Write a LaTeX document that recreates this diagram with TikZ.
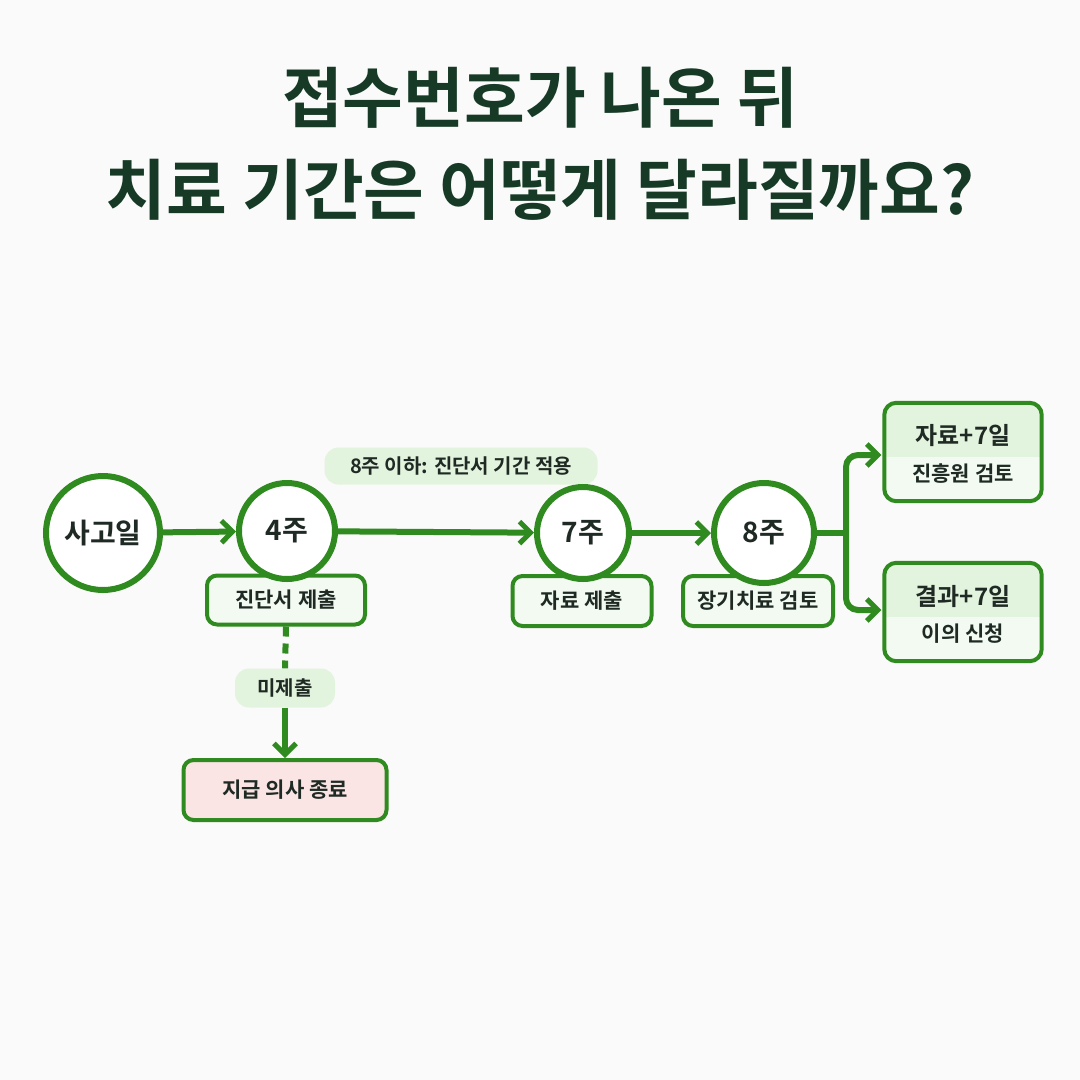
\documentclass[tikz,border=0pt]{standalone}
\usepackage{fontspec}
\setmainfont{Noto Sans CJK KR}[BoldFont={* Bold}]
\usetikzlibrary{arrows.meta}
\definecolor{gr}{HTML}{2F8A1F}
\definecolor{lg}{HTML}{E3F4DE}
\definecolor{vlg}{HTML}{F3FAF1}
\definecolor{tx}{HTML}{1F2A24}
\definecolor{ttl}{HTML}{173A26}
\definecolor{pk}{HTML}{FBE4E4}
\begin{document}
\begin{tikzpicture}[x=1pt,y=-1pt,
  circ/.style={circle,draw=gr,line width=6pt,fill=white,font=\bfseries\fontsize{28}{28}\selectfont,text=tx,inner sep=0pt},
  box/.style={rounded corners=10pt,draw=gr,line width=4pt,fill=vlg,font=\bfseries\fontsize{21}{21}\selectfont,text=tx,inner sep=0pt},
  pill/.style={rounded corners=14pt,fill=lg,font=\bfseries\fontsize{20}{20}\selectfont,text=tx,inner sep=0pt},
  arr/.style={draw=gr,line width=6pt,-{Straight Barb[length=11pt,width=22pt,line width=5pt]}},
  ln/.style={draw=gr,line width=6pt}]
\fill[white!96!gray] (0,0) rectangle (1080,1080);
\useasboundingbox (0,0) rectangle (1080,1080);
\node[font=\bfseries\fontsize{66}{66}\selectfont,text=ttl] (t1) at (540,98) {접수번호가 나온 뒤};
\node[font=\bfseries\fontsize{66}{66}\selectfont,text=ttl] (t2) at (540,190) {치료 기간은 어떻게 달라질까요?};
\node[pill,minimum width=273pt,minimum height=37pt] (p1) at (461,466) {8주 이하: 진단서 기간 적용};
\node[box,minimum width=158pt,minimum height=49pt] (b4) at (286,600) {진단서 제출};
\node[box,minimum width=139pt,minimum height=50pt] (b7) at (582,601) {자료 제출};
\node[box,minimum width=150pt,minimum height=50pt] (b8) at (758,601) {장기치료 검토};
\node[circ,minimum size=114pt] (c0) at (103,533) {사고일};
\node[circ,minimum size=96pt] (c4) at (287,531) {4주};
\node[circ,minimum size=92pt] (c7) at (583,533) {7주};
\node[circ,minimum size=100pt] (c8) at (764,533) {8주};
\node[minimum width=157pt,minimum height=98pt,inner sep=0pt] (r1) at (963,452) {};
\node[minimum width=157pt,minimum height=98pt,inner sep=0pt] (r2) at (963,612) {};
\foreach \r in {r1,r2}{
 \begin{scope}
 \clip[rounded corners=12pt] (\r.south west) rectangle (\r.north east);
 \fill[vlg] (\r.south west) rectangle (\r.north east);
 \fill[lg] (\r.north west) rectangle ([yshift=-5pt]\r.east);
 \end{scope}
 \draw[gr,line width=4pt,rounded corners=12pt] (\r.south west) rectangle (\r.north east);
}
\node[font=\bfseries\fontsize{24}{24}\selectfont,text=tx] (r1a) at (963,436) {자료+7일};
\node[font=\bfseries\fontsize{21}{21}\selectfont,text=tx] (r1b) at (963,474) {진흥원 검토};
\node[font=\bfseries\fontsize{24}{24}\selectfont,text=tx] (r2a) at (963,596) {결과+7일};
\node[font=\bfseries\fontsize{21}{21}\selectfont,text=tx] (r2b) at (963,634) {이의 신청};
\node[pill,minimum width=100pt,minimum height=39pt] (p2) at (285,688) {미제출};
\node[box,fill=pk,minimum width=203pt,minimum height=60pt] (stop) at (285,790) {지급 의사 종료};
\draw[gr,line width=6pt,dash pattern=on 10pt off 7pt] (b4.south) -- (p2.north);
\draw[arr] (p2.south) -- (stop.north);
\draw[arr] (c0) -- (c4);
\draw[arr] (c4) -- (c7);
\draw[arr] (c7) -- (c8);
\coordinate (j) at (846,533);
\draw[ln] (c8.east) -- (j);
\draw[arr,rounded corners=12pt] (j) |- ([xshift=-3pt]r1.west |- 0,455);
\draw[arr,rounded corners=12pt] (j) |- ([xshift=-3pt]r2.west |- 0,610);
\end{tikzpicture}
\end{document}
